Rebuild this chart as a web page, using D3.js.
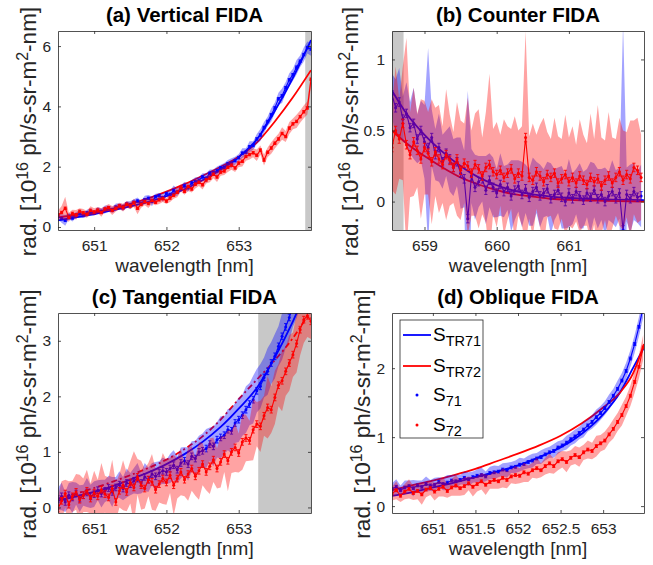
<!DOCTYPE html>
<html>
<head>
<meta charset="utf-8">
<script src="https://cdn.jsdelivr.net/npm/d3@7"></script>
<style>
body { margin: 0; background: #fff; }
svg { display: block; font-family: "Liberation Sans", Arial, sans-serif; }
text { white-space: pre; }
</style>
</head>
<body>
<div id="chart"></div>
<script>
// ---- (a) Vertical FIDA ----
var aWave = d3.range(650.5, 654.001, 0.05);
var aS71 = [0.35,0.28,0.22,0.36,0.30,0.40,0.44,0.38,0.47,0.50,
	0.46,0.55,0.52,0.58,0.63,0.56,0.66,0.70,0.64,0.76,
	0.72,0.82,0.86,0.78,0.90,0.95,0.85,1.00,1.04,0.97,
	1.10,1.08,1.20,1.16,1.28,1.36,1.30,1.46,1.50,1.55,
	1.66,1.62,1.78,1.80,1.86,1.96,1.98,2.10,2.12,2.20,
	2.30,2.45,2.48,2.66,2.70,2.92,3.05,3.30,3.50,3.72,
	3.95,4.25,4.35,4.62,4.88,5.05,5.30,5.50,5.72,5.95,5.90];
var aS71e = [0.10,0.14,0.18,0.10,0.12,0.09,0.13,0.08,0.10,0.12,
	0.08,0.11,0.09,0.13,0.08,0.10,0.12,0.09,0.11,0.09,
	0.13,0.10,0.12,0.09,0.14,0.11,0.16,0.10,0.09,0.13,
	0.10,0.12,0.18,0.12,0.10,0.14,0.13,0.10,0.15,0.11,
	0.12,0.16,0.13,0.11,0.15,0.10,0.14,0.12,0.16,0.13,
	0.12,0.16,0.13,0.18,0.14,0.16,0.20,0.18,0.16,0.22,
	0.18,0.20,0.24,0.19,0.22,0.20,0.24,0.19,0.23,0.20,0.22];
var aS72 = [0.40,0.48,0.62,0.32,0.45,0.40,0.52,0.47,0.42,0.55,
	0.50,0.56,0.48,0.60,0.64,0.55,0.62,0.70,0.64,0.75,
	0.70,0.80,0.62,0.75,0.84,0.78,0.88,0.82,0.90,0.94,
	0.86,0.96,1.05,1.15,1.30,1.18,1.34,1.26,1.42,1.48,
	1.40,1.56,1.62,1.75,1.66,1.82,1.86,1.98,2.05,1.96,
	2.12,2.18,2.34,2.40,2.46,2.38,2.55,2.22,2.48,2.62,
	2.78,2.92,3.10,3.00,3.28,3.42,3.50,3.66,3.82,3.95,4.90];
var aS72e = [0.15,0.22,0.38,0.15,0.12,0.16,0.10,0.13,0.11,0.14,
	0.12,0.10,0.14,0.09,0.12,0.15,0.11,0.10,0.13,0.11,
	0.10,0.14,0.20,0.11,0.12,0.15,0.11,0.10,0.14,0.11,
	0.10,0.13,0.11,0.16,0.12,0.11,0.15,0.12,0.14,0.12,
	0.16,0.12,0.14,0.13,0.17,0.12,0.14,0.16,0.15,0.14,
	0.13,0.17,0.14,0.16,0.15,0.19,0.15,0.18,0.16,0.19,
	0.18,0.17,0.21,0.18,0.20,0.18,0.22,0.20,0.21,0.22,0.25];
var aTheoryWave = [650.5,650.75,651,651.25,651.5,651.75,652,652.25,652.5,652.75,653,653.25,653.5,653.75,654];
var aTR71 = [0.22,0.32,0.43,0.55,0.68,0.83,1.02,1.25,1.55,1.90,2.32,2.90,3.85,4.95,6.20];
var aTR72 = [0.32,0.40,0.47,0.60,0.77,0.95,1.17,1.42,1.70,2.00,2.33,2.80,3.50,4.30,5.20];
var aBar = 0.04;

// ---- (b) Counter FIDA ----
var bWave = d3.range(658.55, 662.001, 0.05);
var bS71 = [0.75,0.66,0.70,0.58,0.62,0.52,0.55,0.44,0.50,0.42,
	0.38,0.45,0.33,0.38,0.28,0.34,0.30,0.24,0.28,0.20,
	0.16,-0.12,0.18,0.10,0.14,0.16,0.08,0.15,0.10,0.06,
	0.12,0.07,0.10,0.04,0.08,0.11,0.05,0.09,0.03,0.07,
	0.10,0.04,0.06,0.09,0.02,0.05,0.08,0.03,0.00,0.06,
	0.02,0.07,0.04,0.01,0.06,0.03,0.08,0.02,0.05,0.00,
	0.04,0.07,0.02,0.06,-0.20,0.05,0.02,0.07,0.03,0.04];
var bS71e = [0.15,0.20,0.24,0.16,0.22,0.18,0.25,0.17,0.21,0.26,
	0.70,0.20,0.18,0.24,0.19,0.16,0.23,0.20,0.17,0.25,
	0.20,0.90,0.19,0.23,0.18,0.16,0.24,0.19,0.21,0.17,
	0.22,0.18,0.16,0.25,0.21,0.18,0.23,0.17,0.20,0.24,
	0.18,0.22,0.17,0.19,0.25,0.18,0.16,0.22,0.19,0.24,
	0.18,0.16,0.23,0.20,0.17,0.25,0.19,0.21,0.18,0.24,
	0.17,0.22,0.20,0.18,1.45,0.19,0.24,0.20,0.18,0.22];
var bS72 = [0.38,0.50,0.44,0.55,0.40,0.33,0.42,0.36,0.30,0.38,
	0.34,0.28,0.35,0.30,0.26,0.33,0.29,0.24,0.30,0.22,
	0.27,0.25,0.20,0.26,0.23,0.18,0.24,0.26,0.21,0.19,
	0.22,0.17,0.20,0.23,0.16,0.20,0.18,0.45,0.17,0.15,
	0.21,0.18,0.14,0.19,0.17,0.20,0.13,0.16,0.19,0.14,
	0.17,0.13,0.18,0.15,0.12,0.17,0.14,0.16,0.11,0.15,
	0.18,0.13,0.17,0.21,0.15,0.19,0.16,0.24,0.22,0.17];
var bS72e = [0.30,0.45,0.28,0.40,0.75,0.30,0.38,0.26,0.42,0.33,
	0.29,0.44,0.31,0.38,0.27,0.46,0.32,0.25,0.40,0.35,
	0.28,0.48,0.30,0.36,0.42,0.27,0.39,0.64,0.30,0.37,
	0.25,0.41,0.33,0.28,0.44,0.30,0.35,0.75,0.29,0.40,
	0.26,0.36,0.45,0.30,0.27,0.39,0.33,0.28,0.42,0.31,
	0.36,0.27,0.40,0.32,0.29,0.45,0.30,0.52,0.34,0.28,
	0.45,0.32,0.27,0.38,0.35,0.30,0.41,0.33,0.37,0.30];
var bTheoryWave = [658.55,658.75,659,659.25,659.5,659.75,660,660.25,660.5,660.75,661,661.5,662.05];
var bTR71 = [0.78,0.62,0.47,0.35,0.25,0.17,0.115,0.075,0.05,0.035,0.025,0.015,0.01];
var bTR72 = [0.50,0.41,0.32,0.24,0.17,0.12,0.08,0.05,0.035,0.02,0.012,0.005,0.0];
var bBar = 0.03;

// ---- (c) Tangential FIDA ----
var cWave = d3.range(650.5, 654.001, 0.05);
var cS71 = [0.15,0.20,0.10,0.22,0.18,0.25,0.16,0.22,0.27,0.20,
	0.24,0.31,0.25,0.30,0.35,0.28,0.36,0.41,0.34,0.44,
	0.42,0.48,0.52,0.44,0.55,0.50,0.60,0.56,0.62,0.66,
	0.64,0.70,0.76,0.68,0.80,0.84,0.78,0.92,0.88,1.00,
	1.02,1.06,1.14,1.10,1.22,1.26,1.30,1.40,1.38,1.52,
	1.58,1.66,1.76,1.86,1.94,2.10,2.18,2.34,2.45,2.60,
	2.72,2.90,3.08,3.25,3.42,3.62,3.80,3.98,4.15,4.35,4.50];
var cS71e = [0.20,0.25,0.18,0.22,0.28,0.20,0.24,0.19,0.26,0.21,
	0.23,0.18,0.25,0.20,0.22,0.27,0.19,0.24,0.21,0.26,
	0.20,0.23,0.28,0.19,0.25,0.22,0.20,0.26,0.21,0.24,
	0.22,0.26,0.27,0.24,0.28,0.25,0.30,0.27,0.32,0.29,
	0.31,0.35,0.30,0.36,0.32,0.38,0.34,0.37,0.41,0.36,
	0.40,0.37,0.42,0.38,0.43,0.39,0.40,0.36,0.42,0.38,
	0.40,0.36,0.42,0.38,0.42,0.37,0.40,0.38,0.41,0.38,0.40];
var cS72 = [-0.02,0.12,0.25,0.05,0.20,0.28,0.14,0.22,0.30,0.16,
	0.26,0.20,0.32,0.24,0.18,0.34,0.10,0.30,0.40,0.28,
	0.45,0.36,0.55,0.40,0.34,0.50,0.46,0.32,0.42,0.52,
	0.45,0.58,0.40,0.52,0.64,0.50,0.60,0.70,0.56,0.66,
	0.78,0.64,0.74,0.86,0.70,0.82,0.96,0.84,1.00,1.08,
	0.98,1.18,1.25,1.20,1.40,1.50,1.46,1.65,1.80,1.76,
	1.98,2.20,2.28,2.45,2.60,2.75,2.95,3.20,3.38,3.45,3.35];
var cS72e = [0.22,0.35,0.25,0.42,0.28,0.32,0.45,0.30,0.38,0.27,
	0.40,0.30,0.48,0.33,0.36,0.52,0.34,0.30,0.45,0.35,
	0.38,0.65,0.32,0.44,0.36,0.30,0.50,0.38,0.33,0.46,
	0.40,0.32,0.55,0.36,0.42,0.30,0.48,0.40,0.35,0.52,
	0.38,0.33,0.50,0.40,0.36,0.46,0.32,0.55,0.38,0.44,
	0.35,0.50,0.42,0.36,0.55,0.40,0.46,0.36,0.56,0.42,
	0.48,0.38,0.55,0.44,0.50,0.40,0.52,0.46,0.42,0.38,0.32];
var cTheoryWave = [650.5,650.75,651,651.25,651.5,651.75,652,652.25,652.5,652.75,653,653.25,653.5,653.75,654];
var cTR71 = [0.12,0.20,0.28,0.38,0.50,0.63,0.78,0.96,1.18,1.45,1.78,2.15,2.70,3.35,4.10];
var cTR72 = [0.15,0.25,0.35,0.46,0.58,0.71,0.86,1.05,1.28,1.58,1.95,2.30,2.65,3.05,3.55];
var cBar = 0.06;

// ---- (d) Oblique FIDA ----
var dWave = d3.range(650.52, 653.471, 0.05);
var dS71 = [0.25,0.28,0.23,0.27,0.29,0.26,0.30,0.28,0.32,0.30,
	0.31,0.35,0.32,0.34,0.37,0.36,0.38,0.41,0.39,0.42,
	0.44,0.45,0.43,0.48,0.49,0.50,0.53,0.52,0.56,0.57,
	0.60,0.61,0.64,0.66,0.69,0.71,0.75,0.78,0.80,0.85,
	0.88,0.92,0.97,1.01,1.06,1.11,1.17,1.22,1.29,1.35,
	1.42,1.51,1.60,1.70,1.82,1.96,2.14,2.35,2.60,2.88];
var dS71e = [0.08,0.11,0.07,0.10,0.08,0.12,0.07,0.09,0.11,0.08,
	0.10,0.07,0.09,0.11,0.08,0.10,0.07,0.09,0.10,0.08,
	0.09,0.11,0.07,0.09,0.10,0.08,0.09,0.11,0.08,0.09,
	0.10,0.08,0.09,0.10,0.08,0.10,0.09,0.08,0.10,0.09,
	0.08,0.10,0.09,0.10,0.09,0.11,0.09,0.10,0.11,0.10,
	0.10,0.11,0.10,0.12,0.11,0.12,0.12,0.13,0.14,0.15];
var dS72 = [0.18,0.23,0.15,0.21,0.25,0.19,0.22,0.17,0.24,0.26,
	0.21,0.25,0.28,0.22,0.27,0.30,0.26,0.29,0.33,0.28,
	0.32,0.36,0.31,0.35,0.38,0.36,0.41,0.38,0.43,0.45,
	0.44,0.49,0.47,0.52,0.55,0.52,0.58,0.62,0.58,0.65,
	0.68,0.64,0.70,0.74,0.71,0.78,0.82,0.80,0.87,0.91,
	0.95,1.04,1.12,1.22,1.32,1.45,1.60,1.80,2.02,2.30];
var dS72e = [0.10,0.13,0.09,0.11,0.14,0.10,0.12,0.15,0.11,0.10,
	0.13,0.11,0.14,0.10,0.12,0.15,0.11,0.13,0.10,0.14,
	0.11,0.12,0.15,0.10,0.13,0.11,0.14,0.12,0.10,0.13,
	0.11,0.14,0.12,0.11,0.15,0.10,0.12,0.14,0.11,0.13,
	0.12,0.15,0.11,0.13,0.14,0.11,0.13,0.12,0.15,0.12,
	0.13,0.12,0.14,0.13,0.15,0.14,0.15,0.16,0.17,0.18];
var dTheoryWave = [650.52,650.75,651,651.25,651.5,651.75,652,652.25,652.5,652.75,653,653.2,653.35,653.48];
var dTR71 = [0.15,0.20,0.27,0.34,0.42,0.50,0.59,0.71,0.85,1.05,1.33,1.65,2.00,2.30];
var dTR72 = [0.23,0.30,0.37,0.45,0.54,0.65,0.76,0.88,1.02,1.20,1.43,1.65,1.92,2.35];
var dBar = 0.02;

var xTicksA = [651, 652, 653], xTicksB = [659, 660, 661], xTicksD = [651, 651.5, 652, 652.5, 653];
var yTicksA = [0, 2, 4, 6], yTicksB = [0, 0.5, 1], yTicksC = [0, 1, 2, 3], yTicksD = [0, 1, 2];
var legendNames = [['S', 'TR71'], ['S', 'TR72'], ['S', '71'], ['S', '72']];

(function() {

var BLUE = '#0000ff', RED = '#ff0000', AXIS = '#262626';
var FONT = '"Liberation Sans", Arial, sans-serif';
var svg = d3.select('#chart').append('svg').attr('width', 653).attr('height', 565);

function series(wave, vals, errs) {
	return wave.map(function(w, i) { return { w: w, v: vals[i], e: errs[i] }; });
}

function drawPanel(p) {
	var x = d3.scaleLinear().domain(p.xDomain).range([p.left, p.left + p.width]);
	var y = d3.scaleLinear().domain(p.yDomain).range([p.top + p.height, p.top]);
	svg.append('clipPath').attr('id', 'clip-' + p.id).append('rect')
		.attr('x', p.left).attr('y', p.top).attr('width', p.width).attr('height', p.height);
	var plot = svg.append('g').attr('clip-path', 'url(#clip-' + p.id + ')');

	if(p.gray) {
		plot.append('rect')
			.attr('x', x(p.gray[0])).attr('y', p.top)
			.attr('width', x(p.gray[1]) - x(p.gray[0])).attr('height', p.height)
			.attr('fill', '#c8c8c8');
	}

	// theory curves
	var tline = d3.line().x(function(d) { return x(d[0]); }).y(function(d) { return y(d[1]); })
		.curve(d3.curveMonotoneX);
	plot.append('path').datum(d3.zip(p.tWave, p.tr71)).attr('d', tline)
		.attr('fill', 'none').attr('stroke', BLUE).attr('stroke-width', 1.8);
	plot.append('path').datum(d3.zip(p.tWave, p.tr72)).attr('d', tline)
		.attr('fill', 'none').attr('stroke', RED).attr('stroke-width', 1.8)
		.attr('stroke-dasharray', p.dash72 || null);

	var band = d3.area().x(function(d) { return x(d.w); })
		.y0(function(d) { return y(d.v - d.e); }).y1(function(d) { return y(d.v + d.e); });
	var dline = d3.line().x(function(d) { return x(d.w); }).y(function(d) { return y(d.v); });

	[[p.s71, BLUE], [p.s72, RED]].forEach(function(s) {
		plot.append('path').datum(s[0]).attr('d', band)
			.attr('fill', s[1]).attr('fill-opacity', 0.36).attr('stroke', 'none');
		plot.append('path').datum(s[0]).attr('d', dline)
			.attr('fill', 'none').attr('stroke', s[1]).attr('stroke-width', 1.1);
		// error bars with caps
		var eb = plot.append('g').attr('stroke', s[1]).attr('stroke-width', 0.9);
		eb.selectAll('path').data(s[0]).enter().append('path')
			.attr('fill', 'none')
			.attr('d', function(d) {
				var cx = x(d.w), t = y(d.v + p.bar), b = y(d.v - p.bar);
				return 'M' + cx + ',' + t + 'V' + b +
					'M' + (cx - 1.6) + ',' + t + 'H' + (cx + 1.6) +
					'M' + (cx - 1.6) + ',' + b + 'H' + (cx + 1.6);
			});
		plot.append('g').selectAll('circle').data(s[0]).enter().append('circle')
			.attr('cx', function(d) { return x(d.w); })
			.attr('cy', function(d) { return y(d.v); })
			.attr('r', 1.5).attr('fill', s[1]);
	});

	// axes, MATLAB style box with inner ticks
	var fmt = function(d) { return String(d); };
	var gB = svg.append('g').attr('transform', 'translate(0,' + (p.top + p.height) + ')')
		.call(d3.axisBottom(x).tickValues(p.xTicks).tickSizeInner(-3).tickSizeOuter(0).tickPadding(10).tickFormat(fmt));
	var gT = svg.append('g').attr('transform', 'translate(0,' + p.top + ')')
		.call(d3.axisTop(x).tickValues(p.xTicks).tickSizeInner(-3).tickSizeOuter(0).tickFormat(''));
	var gL = svg.append('g').attr('transform', 'translate(' + p.left + ',0)')
		.call(d3.axisLeft(y).tickValues(p.yTicks).tickSizeInner(-3).tickSizeOuter(0).tickPadding(7).tickFormat(fmt));
	var gR = svg.append('g').attr('transform', 'translate(' + (p.left + p.width) + ',0)')
		.call(d3.axisRight(y).tickValues(p.yTicks).tickSizeInner(-3).tickSizeOuter(0).tickFormat(''));
	[gB, gT, gL, gR].forEach(function(g) {
		g.selectAll('path, line').attr('stroke', AXIS).attr('stroke-width', 0.8);
		g.selectAll('text').attr('fill', AXIS).attr('font-size', 15.5).attr('font-family', FONT);
	});

	// title
	svg.append('text')
		.attr('x', p.left + p.width / 2).attr('y', p.top - 9)
		.attr('text-anchor', 'middle').attr('font-weight', 'bold').attr('font-size', 20.5)
		.attr('fill', '#000').text(p.title);

	// x label
	svg.append('text')
		.attr('x', p.left + p.width / 2).attr('y', p.top + p.height + 42)
		.attr('text-anchor', 'middle').attr('font-size', 19).attr('fill', AXIS)
		.text('wavelength [nm]');

	// y label
	var yl = svg.append('text')
		.attr('transform', 'translate(' + (p.left - p.ylabGap) + ',' + (p.top + p.height / 2 + 1) + ') rotate(-90)')
		.attr('text-anchor', 'middle').attr('font-size', 22.5).attr('fill', AXIS);
	yl.append('tspan').text('rad. [10');
	yl.append('tspan').attr('dy', -8).attr('font-size', 16).text('16');
	yl.append('tspan').attr('dy', 8).text(' ph/s-sr-m');
	yl.append('tspan').attr('dy', -8).attr('font-size', 16).text('2');
	yl.append('tspan').attr('dy', 8).text('-nm]');

	return { x: x, y: y };
}

drawPanel({ id: 'a', left: 58, top: 31, width: 253, height: 199, ylabGap: 22,
	xDomain: [650.5, 654.0], yDomain: [-0.1, 6.5], xTicks: xTicksA, yTicks: yTicksA,
	gray: [653.92, 654.0], title: '(a) Vertical FIDA', bar: aBar,
	tWave: aTheoryWave, tr71: aTR71, tr72: aTR72,
	s71: series(aWave, aS71, aS71e), s72: series(aWave, aS72, aS72e) });

drawPanel({ id: 'b', left: 392, top: 31, width: 252, height: 199, ylabGap: 34,
	xDomain: [658.55, 662.04], yDomain: [-0.2, 1.2], xTicks: xTicksB, yTicks: yTicksB,
	gray: [658.55, 658.71], title: '(b) Counter FIDA', bar: bBar,
	tWave: bTheoryWave, tr71: bTR71, tr72: bTR72,
	s71: series(bWave, bS71, bS71e), s72: series(bWave, bS72, bS72e) });

drawPanel({ id: 'c', left: 58, top: 313, width: 253, height: 200, ylabGap: 22,
	xDomain: [650.5, 654.0], yDomain: [-0.1, 3.5], xTicks: xTicksA, yTicks: yTicksC,
	gray: [653.27, 654.0], title: '(c) Tangential FIDA', dash72: '6,3,2,3', bar: cBar,
	tWave: cTheoryWave, tr71: cTR71, tr72: cTR72,
	s71: series(cWave, cS71, cS71e), s72: series(cWave, cS72, cS72e) });

drawPanel({ id: 'd', left: 392, top: 313, width: 252, height: 200, ylabGap: 22,
	xDomain: [650.52, 653.48], yDomain: [-0.1, 2.8], xTicks: xTicksD, yTicks: yTicksD,
	title: '(d) Oblique FIDA', bar: dBar,
	tWave: dTheoryWave, tr71: dTR71, tr72: dTR72,
	s71: series(dWave, dS71, dS71e), s72: series(dWave, dS72, dS72e) });

// legend in panel (d)
var legend = svg.append('g').attr('transform', 'translate(400,320)');
legend.append('rect').attr('width', 83).attr('height', 118)
	.attr('fill', '#fff').attr('stroke', AXIS).attr('stroke-width', 0.8);
var rows = legend.selectAll('g.row').data(legendNames).enter().append('g')
	.attr('class', 'row')
	.attr('transform', function(d, i) { return 'translate(0,' + [15, 46, 75, 105][i] + ')'; });
rows.each(function(d, i) {
	var r = d3.select(this);
	var col = i % 2 === 0 ? BLUE : RED;
	if(i < 2) {
		r.append('line').attr('x1', 3).attr('x2', 31).attr('y1', 0).attr('y2', 0)
			.attr('stroke', col).attr('stroke-width', 1.8);
	} else {
		r.append('circle').attr('cx', 17).attr('cy', 0).attr('r', 1.5).attr('fill', col);
	}
	var t = r.append('text').attr('x', 33).attr('y', 6).attr('font-size', 19).attr('fill', '#000');
	t.append('tspan').text(d[0]);
	t.append('tspan').attr('dy', 5).attr('font-size', 14.5).text(d[1]);
});

})();
</script>
</body>
</html>
